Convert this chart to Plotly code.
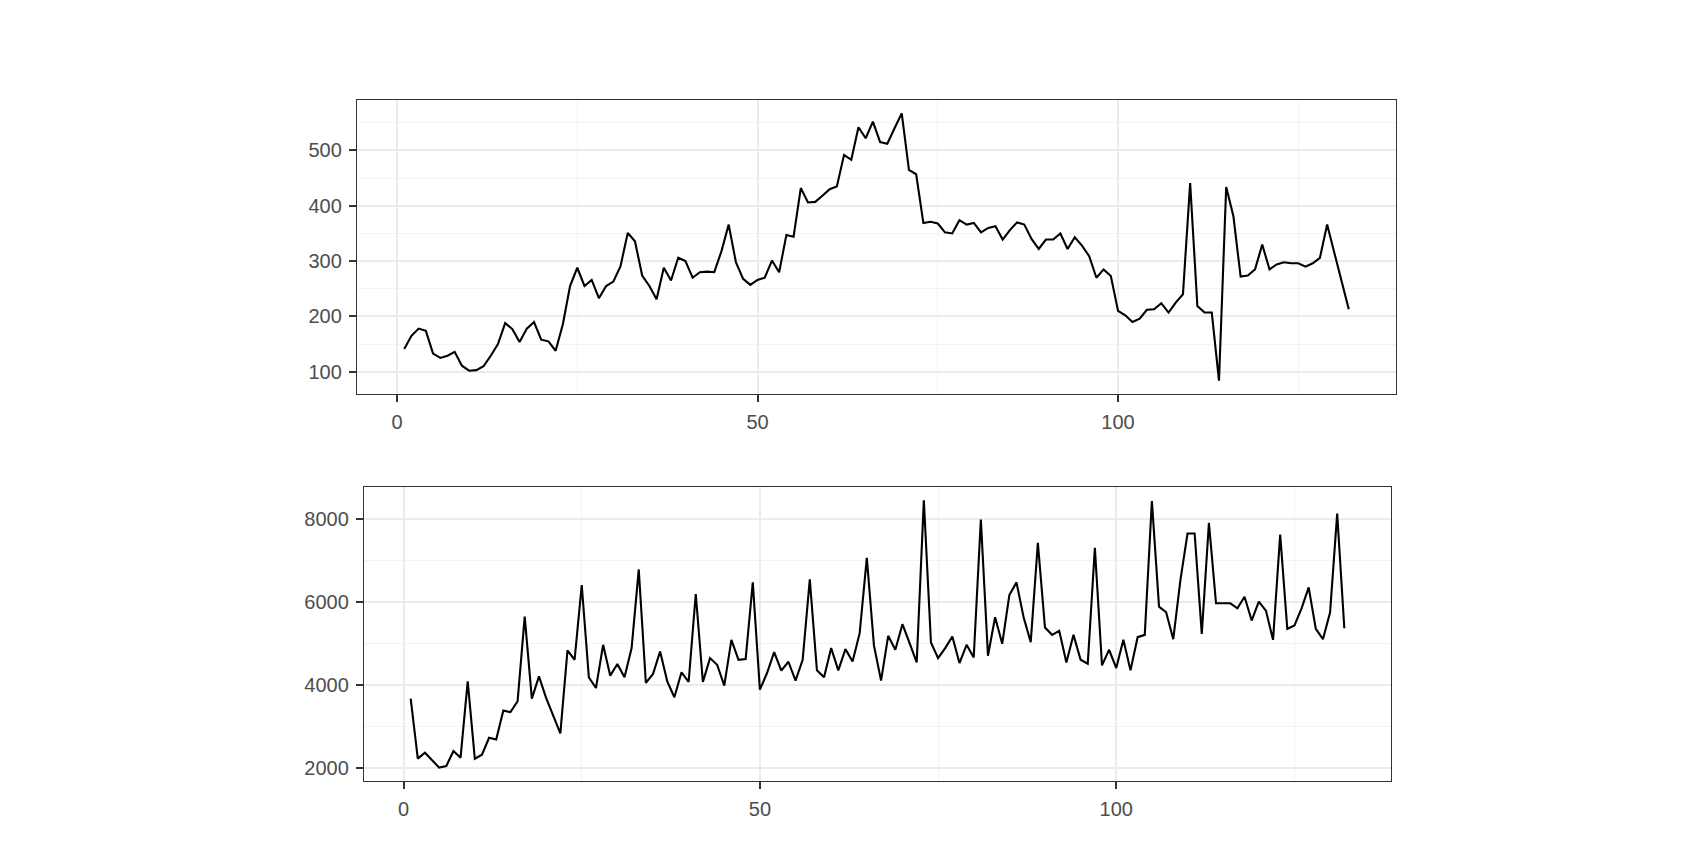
import plotly.graph_objects as go

# ---- data ----
top_x = list(range(1, 133))
top_values = [
    141, 165, 178, 174, 133, 125, 129, 136, 111, 102,
    103, 110, 129, 150, 188, 177, 154, 178, 190, 158,
    155, 138, 186, 255, 288, 255, 266, 233, 255, 263,
    291, 351, 336, 274, 255, 231, 288, 265, 306, 300,
    270, 280, 281, 280, 318, 366, 298, 268, 257, 266,
    270, 301, 280, 347, 344, 432, 406, 407, 418, 430,
    435, 492, 483, 542, 522, 552, 515, 512, 540, 567,
    465, 457, 369, 371, 368, 352, 350, 374, 366, 369,
    352, 360, 363, 339, 356, 370, 366, 340, 322, 339,
    339, 350, 322, 343, 328, 309, 270, 285, 273, 210,
    202, 190, 196, 212, 213, 224, 207, 225, 240, 441,
    219, 207, 207, 84, 434, 381, 272, 274, 285, 330,
    285, 294, 298, 296, 296, 290, 296, 306, 366, 316,
    264, 213,
]

bottom_x = list(range(1, 133))
bottom_values = [
    3666, 2216, 2360, 2176, 2000, 2040, 2400, 2240, 4083, 2216,
    2312, 2721, 2681, 3378, 3338, 3602, 5645, 3666, 4203, 3682,
    3241, 2825, 4828, 4603, 6406, 4179, 3922, 4964, 4219, 4499,
    4179, 4884, 6782, 4043, 4259, 4804, 4083, 3698, 4300, 4067,
    6190, 4067, 4643, 4483, 3978, 5084, 4603, 4619, 6470, 3882,
    4283, 4788, 4339, 4555, 4099, 4603, 6542, 4347, 4179, 4884,
    4347, 4860, 4563, 5244, 7063, 4948, 4099, 5180, 4844, 5461,
    5004, 4539, 8449, 5020, 4643, 4884, 5164, 4523, 4964, 4659,
    7984, 4700, 5629, 4988, 6165, 6470, 5629, 5028, 7423, 5380,
    5204, 5300, 4539, 5204, 4603, 4507, 7303, 4467, 4844, 4403,
    5084, 4347, 5148, 5204, 8433, 5885, 5749, 5100, 6526, 7648,
    7648, 5228, 7904, 5965, 5965, 5965, 5845, 6125, 5549, 6005,
    5789, 5084, 7624, 5348, 5428, 5845, 6350, 5348, 5100, 5741,
    8128, 5364,
]

x_ticks = [0, 50, 100]
top_y_ticks = [100, 200, 300, 400, 500]
bottom_y_ticks = [2000, 4000, 6000, 8000]

W, H = 1702, 844

fig = go.Figure()
fig.add_trace(go.Scatter(x=top_x, y=top_values, mode="lines",
                         line=dict(color="black", width=2.1), xaxis="x", yaxis="y",
                         showlegend=False, hoverinfo="x+y"))
fig.add_trace(go.Scatter(x=bottom_x, y=bottom_values, mode="lines",
                         line=dict(color="black", width=2.1), xaxis="x2", yaxis="y2",
                         showlegend=False, hoverinfo="x+y"))


def expand(lo, hi, f=0.05):
    d = (hi - lo) * f
    return [lo - d, hi + d]


font = dict(family="Liberation Sans, Arial, sans-serif", size=20, color="#4D4D4D")
axis_common = dict(
    showline=True, linecolor="#333333", linewidth=1.3, mirror=True,
    ticks="outside", ticklen=7, tickwidth=1.5, tickcolor="#333333",
    showgrid=True, gridcolor="#EBEBEB", gridwidth=2,
    zeroline=False, tickfont=font, ticklabelstandoff=3,
)

xr_top = expand(min(top_x), max(top_x))
xr_bot = expand(min(bottom_x), max(bottom_x))
yr_top = expand(min(top_values), max(top_values))
yr_bot = expand(min(bottom_values), max(bottom_values))

fig.update_layout(
    width=W, height=H, margin=dict(l=0, r=0, t=0, b=0),
    paper_bgcolor="white", plot_bgcolor="white",
    xaxis=dict(domain=[357 / W, 1396 / W], range=xr_top, tickvals=x_ticks,
               anchor="y",
               minor=dict(showgrid=True, gridcolor="#F3F3F3", gridwidth=1, tickvals=[25, 75, 125], ticks=""),
               **axis_common),
    yaxis=dict(domain=[1 - 394 / H, 1 - 100 / H], range=yr_top, tickvals=top_y_ticks,
               anchor="x",
               minor=dict(showgrid=True, gridcolor="#F3F3F3", gridwidth=1, tickvals=[150, 250, 350, 450, 550], ticks=""),
               **axis_common),
    xaxis2=dict(domain=[364 / W, 1391 / W], range=xr_bot, tickvals=x_ticks,
                anchor="y2",
                minor=dict(showgrid=True, gridcolor="#F3F3F3", gridwidth=1, tickvals=[25, 75, 125], ticks=""),
                **axis_common),
    yaxis2=dict(domain=[1 - 781 / H, 1 - 487 / H], range=yr_bot, tickvals=bottom_y_ticks,
                anchor="x2",
                minor=dict(showgrid=True, gridcolor="#F3F3F3", gridwidth=1, tickvals=[3000, 5000, 7000], ticks=""),
                **axis_common),
)

fig.write_html("out.html", config={"displayModeBar": False},
               post_script="document.body.style.margin='0';document.body.style.overflow='hidden';")
